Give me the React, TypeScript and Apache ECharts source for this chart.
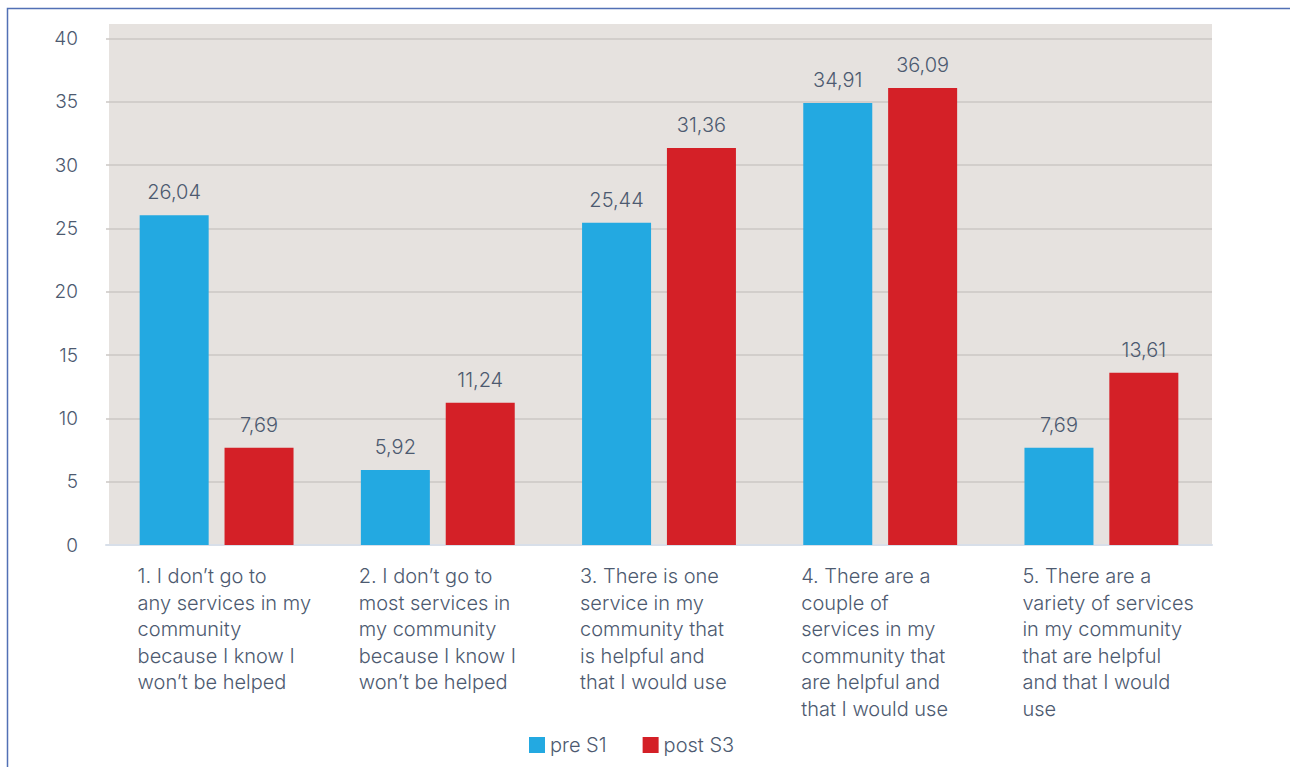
import React, { useEffect, useRef } from "react";
import * as echarts from "echarts";

const categories = [
  "1. I don’t go to\nany services in my\ncommunity\nbecause I know I\nwon’t be helped",
  "2. I don’t go to\nmost services in\nmy community\nbecause I know I\nwon’t be helped",
  "3. There is one\nservice in my\ncommunity that\nis helpful and\nthat I would use",
  "4. There are a\ncouple of\nservices in my\ncommunity that\nare helpful and\nthat I would use",
  "5. There are a\nvariety of services\nin my community\nthat are helpful\nand that I would\nuse",
];
const preS1 = [26.04, 5.92, 25.44, 34.91, 7.69];
const postS3 = [7.69, 11.24, 31.36, 36.09, 13.61];
const seriesNames = ["pre S1", "post S3"];

const TEXT = "#4d5a70";
const FONT = "Inter, 'Open Sans', sans-serif";
const FS = 20;

export default function App() {
  const ref = useRef<HTMLDivElement>(null);
  useEffect(() => {
    if (!ref.current) return;
    const chart = echarts.init(ref.current, undefined, { renderer: "svg" });
    const fmt = (p: any) => Number(p.value).toFixed(2).replace(".", ",");
    chart.setOption({
      animation: false,
      textStyle: { fontFamily: FONT },
      graphic: [
        {
          type: "rect",
          z: -100,
          silent: true,
          shape: { x: 109, y: 24, width: 1103, height: 521 },
          style: { fill: "#e6e2df" },
        },
        {
          type: "rect",
          z: 100,
          silent: true,
          shape: { x: 7.5, y: 8.5, width: 1400, height: 900 },
          style: { fill: "none", stroke: "#5270b5", lineWidth: 1.5 },
        },
      ],
      grid: { left: 106, right: 78, top: 38.5, bottom: 222, containLabel: false },
      legend: {
        bottom: 7,
        left: 524,
        itemWidth: 16,
        itemHeight: 16,
        itemGap: 36,
        icon: "rect",
        textStyle: { color: TEXT, fontSize: FS, fontWeight: 300, fontFamily: FONT },
        data: seriesNames,
      },
      xAxis: {
        type: "category",
        data: categories,
        axisLine: { show: true, lineStyle: { color: "#d8dfe9", width: 2 } },
        axisTick: { show: false },
        axisLabel: {
          color: TEXT,
          fontSize: FS,
          fontWeight: 300,
          fontFamily: FONT,
          lineHeight: 26.5,
          align: "left",
          margin: 18,
          padding: [0, 0, 0, -79],
          interval: 0,
        },
      },
      yAxis: {
        type: "value",
        min: 0,
        max: 40,
        interval: 5,
        axisLine: { show: false },
        axisTick: { show: false },
        axisLabel: { color: TEXT, fontSize: 19, fontWeight: 300, fontFamily: FONT, margin: 28 },
        splitLine: { lineStyle: { color: "#cbc7c4", width: 1.5 } },
      },
      series: [
        {
          name: seriesNames[0],
          type: "bar",
          data: preS1,
          barWidth: 69,
          barGap: "23%",
          itemStyle: { color: "#23a9e1" },
          label: {
            show: true,
            position: "top",
            distance: 13,
            color: TEXT,
            fontSize: FS,
            fontWeight: 300,
            fontFamily: FONT,
            formatter: fmt,
          },
        },
        {
          name: seriesNames[1],
          type: "bar",
          data: postS3,
          barWidth: 69,
          barGap: "23%",
          itemStyle: { color: "#d42027" },
          label: {
            show: true,
            position: "top",
            distance: 13,
            color: TEXT,
            fontSize: FS,
            fontWeight: 300,
            fontFamily: FONT,
            formatter: fmt,
          },
        },
      ],
    });
    return () => chart.dispose();
  }, []);
  return (
    <div
      ref={ref}
      style={{ position: "absolute", left: 0, top: 0, width: 1290, height: 767, background: "#fff" }}
    />
  );
}
